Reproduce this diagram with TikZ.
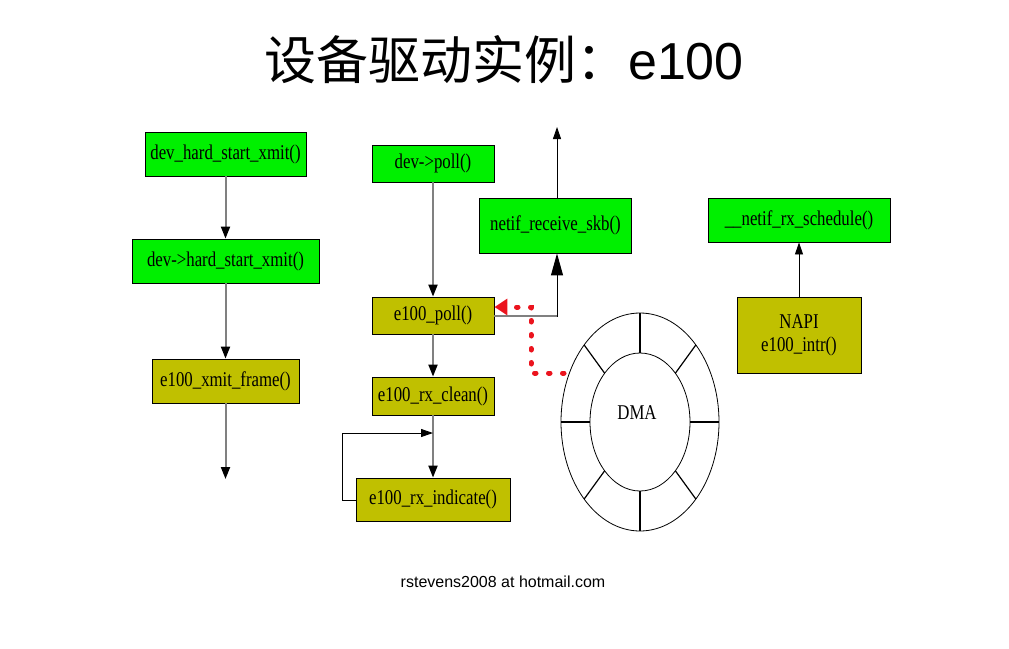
\documentclass[tikz,border=0pt]{standalone}
\usepackage{fontspec}
\usetikzlibrary{arrows.meta,shapes.geometric}
\newfontfamily\cjkfont{Noto Sans CJK SC}
\newfontfamily\arialfont{Liberation Sans}
\newfontfamily\boxfont[FakeStretch=0.8]{Liberation Serif}
\definecolor{boxgreen}{RGB}{0,240,0}
\definecolor{boxolive}{RGB}{192,192,0}
\definecolor{linegray}{RGB}{128,128,128}
\definecolor{dotred}{RGB}{235,20,30}
\tikzset{
  fbox/.style={draw=black,line width=0.9pt,inner sep=0pt,align=center,
    font=\boxfont\fontsize{21}{23}\selectfont},
  gbox/.style={fbox,fill=boxgreen},
  obox/.style={fbox,fill=boxolive},
  grayarrow/.style={draw=linegray,line width=2pt,
    -{Triangle[length=12pt,width=9pt,color=black]}},
  thinarrow/.style={draw=black,line width=0.9pt,
    -{Triangle[length=12pt,width=8pt,color=black]}},
  bigarrow/.style={draw=black,line width=1pt,
    -{Triangle[length=22pt,width=12pt,color=black]}},
  redarrow/.style={draw=dotred,line width=5pt,line cap=round,dash pattern=on 1.5pt off 12.5pt,
    -{Triangle[length=13pt,width=16pt,color=dotred,line cap=butt]}},
}
\begin{document}
\begin{tikzpicture}[x=1pt,y=-1pt]
\useasboundingbox (0,0) rectangle (1009,648);
% title
\node (title) at (504,60) {\cjkfont\fontsize{52}{56}\selectfont 设备驱动实例：\arialfont e100};
\node (foot) at (503,582) {\arialfont\fontsize{16}{18}\selectfont rstevens2008 at hotmail.com};
% left column
\node[gbox,minimum width=161pt,minimum height=44pt] (b1) at (225.5,154) {dev\_hard\_start\_xmit()};
\node[gbox,minimum width=187pt,minimum height=44pt] (b2) at (225.5,261) {dev->hard\_start\_xmit()};
\node[obox,minimum width=147pt,minimum height=44pt] (b3) at (225.5,381) {e100\_xmit\_frame()};
\coordinate (b3end) at (225.5,479);
\draw[grayarrow] (b1) -- (b2);
\draw[grayarrow] (b2) -- (b3);
\draw[grayarrow] (b3) -- (b3end);
% middle column
\node[gbox,minimum width=122pt,minimum height=37pt] (c1) at (433,163.5) {dev->poll()};
\node[obox,minimum width=122pt,minimum height=37pt] (c2) at (433,315.5) {e100\_poll()};
\node[obox,minimum width=122pt,minimum height=38pt] (c3) at (433,396) {e100\_rx\_clean()};
\node[obox,minimum width=154pt,minimum height=43pt] (c4) at (433,499.5) {e100\_rx\_indicate()};
\draw[grayarrow] (c1) -- (c2);
\draw[grayarrow] (c2) -- (c3);
\draw[grayarrow] (c3) -- (c4);
\coordinate (loopend) at (433,433);
\draw[thinarrow] (c4.west |- 0,500) -- (342,500) -- (342,433) -- (loopend);
% netif_receive_skb
\node[gbox,minimum width=152pt,minimum height=55pt] (n1) at (555.5,225.5) {netif\_receive\_skb()};
\coordinate (n1top) at (557,127);
\draw[thinarrow] (n1.north -| 557,0) -- (n1top);
\draw[linegray,line width=1.6pt] (c2.east |- 0,316) -- (557,316);
\draw[bigarrow] (557,316.8) -- (n1.south -| 557,0);
% right column
\node[gbox,minimum width=182pt,minimum height=44pt] (s1) at (799,220) {\_\_netif\_rx\_schedule()};
\node[obox,minimum width=124pt,minimum height=76pt] (s2) at (799,335) {NAPI\\e100\_intr()};
\draw[thinarrow] (s2) -- (s1);
% DMA ring
\draw[black,line width=0.8pt] (640,422) ellipse [x radius=79pt,y radius=109pt];
\node[draw=black,line width=0.8pt,ellipse,minimum width=100pt,minimum height=138pt,inner sep=0pt] (dma) at (640,422) {};
\node[font=\boxfont\fontsize{21}{23}\selectfont] (dmalabel) at (637,413) {DMA};
\foreach \t in {0,45,...,315}
  \draw[black,line width=1.2pt] ({640+50*cos(\t)},{422+69*sin(\t)}) -- ({640+79*cos(\t)},{422+109*sin(\t)});
\coordinate (dmaleft) at (564,373);
\draw[redarrow] (dmaleft) -- (531,373) -- (531,307) -- (c2.east |- 0,307);
\end{tikzpicture}
\end{document}
